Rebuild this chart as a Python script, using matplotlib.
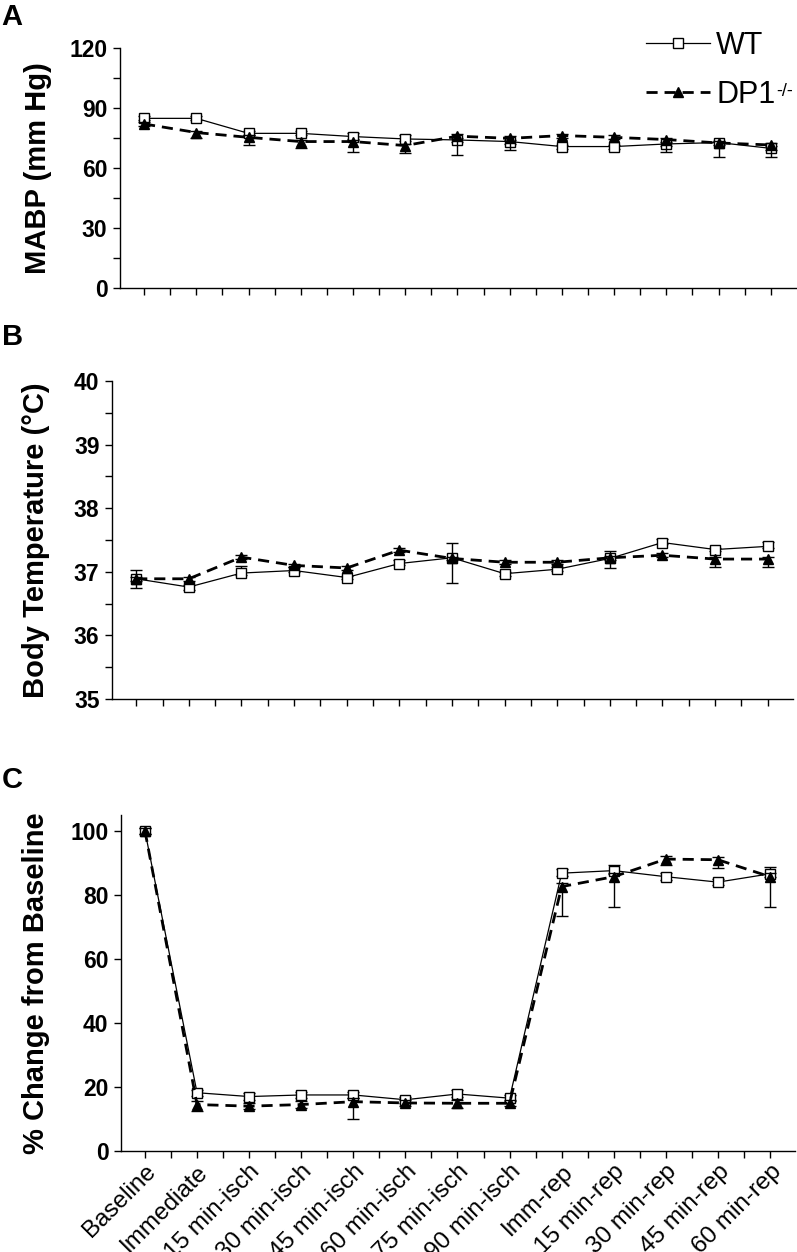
import numpy as np
import matplotlib.pyplot as plt
from matplotlib.ticker import MultipleLocator
from matplotlib.lines import Line2D

plt.rcParams['font.family'] = ['Liberation Sans', 'DejaVu Sans']

# categorias del eje x
etiquetas = ['Baseline', 'Immediate', '15 min-isch', '30 min-isch', '45 min-isch',
             '60 min-isch', '75 min-isch', '90 min-isch', 'Imm-rep', '15 min-rep',
             '30 min-rep', '45 min-rep', '60 min-rep']

# panel A: MABP
mabp_wt = [84.8, 84.8, 77.3, 77.3, 75.7, 74.5, 74.0, 73.2, 70.7, 70.7, 72.0, 72.7, 69.8]
mabp_wt_err_lo = [1, 1, 1, 1, 1, 1, 1, 1, 1, 1, 1, 1, 1]
mabp_wt_err_hi = [1, 1, 1, 1, 1.6, 2, 1, 1, 1, 1, 1, 1, 1]
mabp_dp = [82.0, 77.7, 75.3, 73.2, 73.2, 71.2, 75.9, 74.8, 76.2, 75.3, 74.2, 72.5, 71.5]
mabp_dp_err_lo = [1, 2.5, 3.8, 3.0, 5.0, 3.6, 9.4, 5.8, 1, 1, 6.4, 6.8, 5.8]
mabp_dp_err_hi = [1, 1, 1, 1, 1, 1, 1, 1, 1, 1, 1, 1, 1]

# panel B: temperatura corporal
temp_wt = [36.89, 36.76, 36.98, 37.02, 36.91, 37.13, 37.22, 36.97, 37.04, 37.21, 37.46, 37.35, 37.40]
temp_wt_err_lo = [0.15, 0.05, 0.03, 0.03, 0.03, 0.03, 0.39, 0.03, 0.03, 0.03, 0.03, 0.03, 0.03]
temp_wt_err_hi = [0.14, 0.03, 0.11, 0.05, 0.03, 0.05, 0.23, 0.03, 0.03, 0.12, 0.06, 0.03, 0.07]
temp_dp = [36.89, 36.89, 37.23, 37.10, 37.06, 37.34, 37.21, 37.15, 37.15, 37.22, 37.26, 37.20, 37.20]
temp_dp_err_lo = [0.03, 0.03, 0.03, 0.03, 0.03, 0.03, 0.03, 0.03, 0.03, 0.16, 0.03, 0.12, 0.13]
temp_dp_err_hi = [0.03, 0.03, 0.03, 0.03, 0.03, 0.03, 0.03, 0.03, 0.03, 0.03, 0.03, 0.03, 0.03]

# panel C: % cambio desde baseline
cbf_wt = [100, 18.2, 17.0, 17.5, 17.5, 16.0, 17.8, 16.5, 86.8, 87.6, 85.7, 84.0, 86.6]
cbf_wt_err_lo = [1, 1, 1, 1, 1, 1, 1, 1, 1, 1, 1, 1, 1]
cbf_wt_err_hi = [1, 1, 1, 1, 1, 1, 1.3, 1, 1.3, 1.6, 1, 1, 2.0]
cbf_dp = [100, 14.5, 14.0, 14.5, 15.4, 15.0, 14.9, 14.9, 82.6, 85.7, 91.2, 91.0, 85.7]
cbf_dp_err_lo = [1, 2, 1, 1, 5.5, 1, 1.5, 1, 9.2, 9.5, 2.0, 2.7, 9.5]
cbf_dp_err_hi = [1, 1, 1, 1, 1, 1, 1, 1, 1, 1, 1, 1, 1]

x = np.arange(len(etiquetas))

fig = plt.figure(figsize=(7.97, 12.52), dpi=100)
axA = fig.add_axes([0.1506, 0.770, 0.848, 0.1917])
axB = fig.add_axes([0.1405, 0.4417, 0.8545, 0.254])
axC = fig.add_axes([0.1518, 0.0807, 0.8457, 0.2684])

estilo_wt = dict(color='black', lw=0.9, marker='s', ms=6.5, mfc='white', mec='black', mew=1.0)
estilo_dp = dict(color='black', lw=2.0, ls=(0, (4, 2.5)), marker='^', ms=7.5, mfc='black', mec='black')


def dibujar(ax, wt, wlo, whi, dp, dlo, dhi):
    ax.errorbar(x, wt, yerr=[wlo, whi], ecolor='black', elinewidth=1.0,
                capsize=4, capthick=1.0, zorder=3, **estilo_wt)
    ax.errorbar(x, dp, yerr=[dlo, dhi], ecolor='black', elinewidth=1.0,
                capsize=4, capthick=1.0, zorder=4, **estilo_dp)
    ax.spines['top'].set_visible(False)
    ax.spines['right'].set_visible(False)
    ax.spines['left'].set_linewidth(1.0)
    ax.spines['bottom'].set_linewidth(1.0)
    ax.set_xlim(-0.46, 12.48)
    ax.set_xticks(x)
    ax.xaxis.set_minor_locator(MultipleLocator(0.5))
    ax.tick_params(axis='both', which='both', direction='out', length=5, width=1.0)
    ax.tick_params(axis='y', labelsize=16.5, pad=4)


dibujar(axA, mabp_wt, mabp_wt_err_lo, mabp_wt_err_hi, mabp_dp, mabp_dp_err_lo, mabp_dp_err_hi)
axA.set_ylim(0, 120)
axA.set_yticks([0, 30, 60, 90, 120])
axA.yaxis.set_minor_locator(MultipleLocator(15))
axA.set_xticklabels([])
axA.set_ylabel('MABP (mm Hg)', fontsize=21, fontweight='bold')
axA.yaxis.set_label_coords(-0.10, 0.5)

# leyenda sin barras de error
h_wt = Line2D([], [], **estilo_wt)
h_dp = Line2D([], [], **estilo_dp)
leg = fig.legend([h_wt, h_dp], ['WT', 'DP1'], loc='upper left',
                 bbox_to_anchor=(646 / 797, 1 - 31 / 1252), frameon=False,
                 fontsize=22, handlelength=2.1, handletextpad=0.2, labelspacing=0.62,
                 borderpad=0, borderaxespad=0)

dibujar(axB, temp_wt, temp_wt_err_lo, temp_wt_err_hi, temp_dp, temp_dp_err_lo, temp_dp_err_hi)
axB.set_ylim(35, 40)
axB.set_yticks([35, 36, 37, 38, 39, 40])
axB.yaxis.set_minor_locator(MultipleLocator(0.5))
axB.set_xticklabels([])
axB.set_ylabel('Body Temperature (\u00b0C)', fontsize=21, fontweight='bold')
axB.yaxis.set_label_coords(-0.091, 0.5)

dibujar(axC, cbf_wt, cbf_wt_err_lo, cbf_wt_err_hi, cbf_dp, cbf_dp_err_lo, cbf_dp_err_hi)
axC.set_ylim(0, 105)
axC.set_yticks([0, 20, 40, 60, 80, 100])
axC.set_xticklabels(etiquetas, rotation=45, ha='right', rotation_mode='anchor', fontsize=17.5)
axC.tick_params(axis='x', pad=2)
axC.set_ylabel('% Change from Baseline', fontsize=21, fontweight='bold')
axC.yaxis.set_label_coords(-0.105, 0.5)

for ax in (axA, axB, axC):
    for t in ax.get_yticklabels():
        t.set_fontweight('bold')

fig.text(0.002, 0.998, 'A', fontsize=21, fontweight='bold', va='top', ha='left')
fig.text(0.002, 0.742, 'B', fontsize=21, fontweight='bold', va='top', ha='left')
fig.text(0.002, 0.388, 'C', fontsize=21, fontweight='bold', va='top', ha='left')

# superindice -/- junto a DP1
fig.canvas.draw()
bb = leg.get_texts()[1].get_window_extent()
fig.text((bb.x1 + 1) / 797, (bb.y1 - 3) / 1252, '-/-', fontsize=13, va='top', ha='left')

fig.savefig('out.png', dpi=100)
